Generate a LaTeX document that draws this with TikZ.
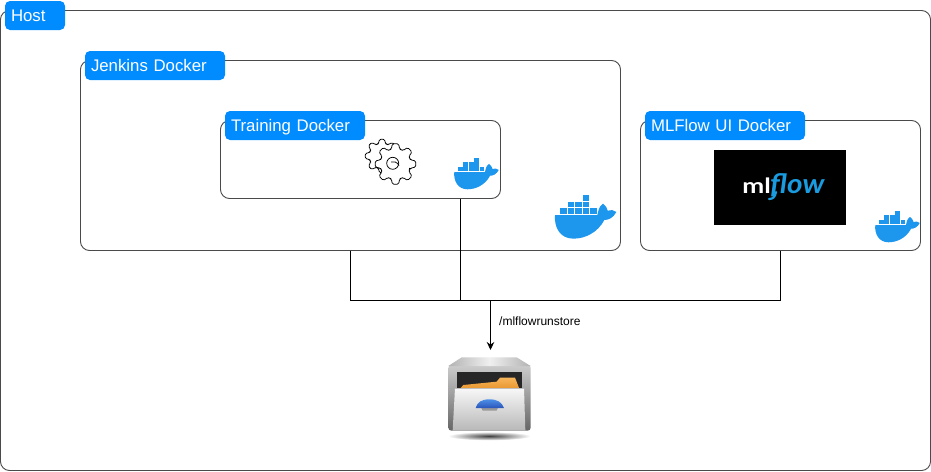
\documentclass[tikz,border=0pt]{standalone}
\usepackage{fontspec}
\setmainfont{Liberation Sans}
\newfontfamily\mlfont{Lato}
\usetikzlibrary{arrows.meta,calc,shadings}
\definecolor{tabblue}{HTML}{008CFF}
\definecolor{whale}{HTML}{1D96EE}
\definecolor{linegray}{HTML}{4A4A4A}
\definecolor{mlblue}{HTML}{1A9BE0}
\definecolor{foldertop}{HTML}{F7B55A}
\definecolor{folderlow}{HTML}{E8962E}
\definecolor{knobtop}{HTML}{4C8FE8}
\definecolor{knoblow}{HTML}{2A55B8}
\tikzset{
  boxframe/.style={draw=linegray,line width=.9pt,rounded corners=9pt,fill=none,inner sep=0pt,outer sep=0pt},
  tabnode/.style={fill=tabblue,draw=none,rounded corners=5pt,text=white,font=\fontsize{16.8}{18}\selectfont,inner sep=0pt,outer sep=0pt,text height=12pt,text depth=0pt},
  wire/.style={draw=black,line width=.9pt},
}
\newcommand{\whaleart}{%
    \fill[whale] (30,75) -- (157,75) .. controls (160,65) and (160,50) .. (174,41)
      .. controls (183,48) and (187,56) .. (188,62)
      .. controls (197,58) and (207,60) .. (214,66)
      .. controls (205,84) and (190,90) .. (178,90)
      .. controls (158,128) and (120,146) .. (85,146)
      .. controls (45,146) and (27,112) .. (30,75) -- cycle;
    \foreach \bx/\by in {113/15,
      68/35,91/35,113/35,
      45/55,68/55,91/55,113/55,135/55}
      {\fill[whale] (\bx,\by) rectangle ++(20,17);}%
}
\newcommand{\gearart}{%
    \draw[line width=.75pt,fill=white,line join=round,rounded corners=1.5pt]
      (-22.5:.74)
      \foreach \a in {0,45,...,315}{
        -- (\a-15:.76) -- (\a-9:1) -- (\a+9:1) -- (\a+15:.76) -- (\a+22.5:.74)
      } -- cycle;%
}
\begin{document}
\begin{tikzpicture}[x=1pt,y=-1pt]
\useasboundingbox (0,0) rectangle (931,471);
\fill[white] (0,0) rectangle (931,471);
% frames
\node[boxframe,minimum width=930pt,minimum height=460pt] (host) at (465.5,240.5) {};
\node[boxframe,minimum width=540pt,minimum height=190pt] (jenkins) at (350.5,155.5) {};
\node[boxframe,minimum width=280pt,minimum height=78pt] (training) at (360.5,159.5) {};
\node[boxframe,minimum width=280pt,minimum height=130pt] (mlui) at (780.5,185.5) {};
% tabs
\node[tabnode,minimum width=60pt,minimum height=29pt,text width=48pt,align=left] (hosttab) at (35,15.5) {Host};
\node[tabnode,minimum width=140pt,minimum height=29pt,text width=128pt,align=left] (jenkinstab) at (155,65.5) {Jenkins Docker};
\node[tabnode,minimum width=140pt,minimum height=29pt,text width=128pt,align=left] (trainingtab) at (295,125.5) {Training Docker};
\node[tabnode,minimum width=160pt,minimum height=29pt,text width=148pt,align=left] (mluitab) at (725,125.5) {MLFlow UI Docker};
% gears
\begin{scope}[shift={(382,156)},x=17pt,y=17pt]\gearart\end{scope}
\begin{scope}[shift={(395.5,164)},x=20.5pt,y=20.5pt]\gearart\end{scope}
\draw[line width=.75pt,fill=white] (392.7,163.3) circle (6);
\draw[line width=.75pt] (391,162) .. controls (394,161) and (397,162) .. (399,165.5);
% whales
\begin{scope}[shift={(545,190)},scale=1/3]\whaleart\end{scope}
\begin{scope}[shift={(447,154)},scale=.2417]\whaleart\end{scope}
\begin{scope}[shift={(868,207)},scale=.2417]\whaleart\end{scope}
% mlflow logo
\node[fill=black,minimum width=132pt,minimum height=75pt,inner sep=0pt] (mllogo) at (780,187.5) {};
\node[inner sep=0pt,anchor=base west,text=white,xscale=1.25,transform shape] (mltext) at (742,193) {\mlfont\bfseries\fontsize{21}{22}\selectfont ml};
\node[inner sep=0pt,anchor=base west,text=mlblue,xscale=1.1,transform shape] (flowtext) at (770,193) {\mlfont\bfseries\itshape\fontsize{27}{30}\selectfont flow};
\draw[mlblue,line width=2.2pt,line cap=round] (776,192) .. controls (775,197) and (773,199) .. (769,199);
% cabinet
\node[minimum width=84pt,minimum height=100pt,inner sep=0pt,outer sep=0pt] (cabinet) at (490.5,400) {};
\begin{scope}[shift={(440,340)},scale=1/3]
  \shade[inner color=black!75,outer color=white] (148,288) ellipse (124 and 13);
  \shade[rounded corners=3pt,top color=black!20,bottom color=black!60] (25,75) -- (25,272) -- (272,272) -- (272,75) -- cycle;
  \shade[left color=black!30,right color=black!30,middle color=black!6] (25,78) -- (65,52) -- (230,52) -- (272,78) -- cycle;
  \fill[black!85] (50,97) rectangle (245,146);
  \shade[top color=foldertop,bottom color=folderlow] (60,146) -- (70,135) -- (170,125) -- (180,113) -- (225,113) -- (238,146) -- cycle;
  \shade[top color=black!3,bottom color=black!28] (45,145) -- (252,145) -- (256,272) -- (38,272) -- cycle;
  \draw[black!25,line width=.5pt] (45,145) -- (252,145);
  \fill[black!40] (122,200) -- (175,200) -- (170,212) -- (128,212) -- cycle;
  \shade[top color=knobtop,bottom color=knoblow] (107,204) .. controls (112,186) and (125,178) .. (148,178) .. controls (172,178) and (185,186) .. (192,204) -- cycle;
\end{scope}
% connectors
\coordinate (trainingdrop) at ($(training.south west)!0.8571!(training.south east)$);
\coordinate (busleft) at (jenkins.south |- 0,300.5);
\coordinate (busright) at (mlui.south |- 0,300.5);
\coordinate (busmid) at (trainingdrop |- 0,300.5);
\coordinate (busout) at (cabinet.north |- 0,300.5);
\draw[wire] (jenkins.south) -- (busleft) -- (busright) -- (mlui.south);
\draw[wire] (trainingdrop) -- (busmid);
\draw[wire,-{Stealth[length=8pt,width=7.5pt]}] (busout) -- (cabinet.north);
\node[anchor=west,inner sep=0pt,font=\fontsize{12}{14}\selectfont] (storelabel) at (499,321) {/mlflowrunstore};
\end{tikzpicture}
\end{document}
